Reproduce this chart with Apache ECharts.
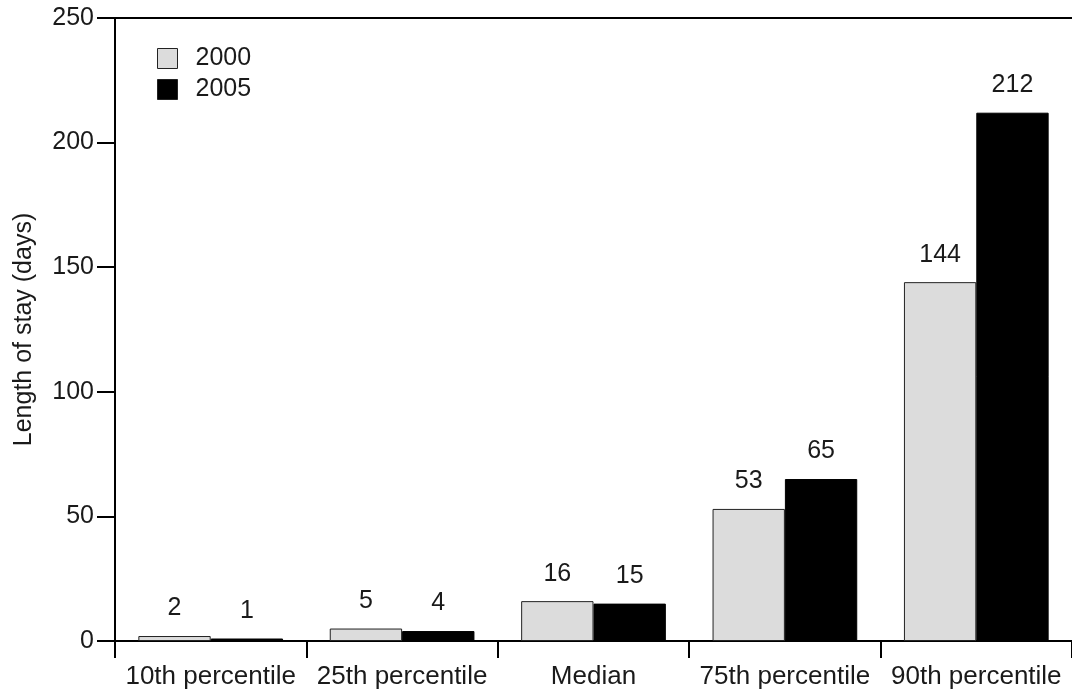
<!DOCTYPE html>
<html>
<head>
<meta charset="utf-8">
<script src="https://cdn.jsdelivr.net/npm/echarts@6/dist/echarts.min.js"></script>
<style>
html,body{margin:0;padding:0;background:#fff;}
#chart{width:1072px;height:690px;}
</style>
</head>
<body>
<div id="chart"></div>
<script>
const categories = ['10th percentile', '25th percentile', 'Median', '75th percentile', '90th percentile'];
const values2000 = [2, 5, 16, 53, 144];
const values2005 = [1, 4, 15, 65, 212];
const yTicks = [0, 50, 100, 150, 200, 250];

const FONT = 'Liberation Sans, Arial, sans-serif';
const TXT = '#1a1a1a';

const chart = echarts.init(document.getElementById('chart'), null, {renderer: 'canvas'});
chart.setOption({
  animation: false,
  backgroundColor: '#ffffff',
  textStyle: {fontFamily: FONT, color: TXT},
  grid: {left: 115, top: 18, width: 960, height: 624, containLabel: false},
  legend: {
    orient: 'vertical',
    left: 157, top: 46,
    padding: 0,
    icon: 'rect',
    itemWidth: 20, itemHeight: 20, itemGap: 6,
    textStyle: {fontFamily: FONT, fontSize: 25, color: TXT, padding: [0, 0, 0, 13]},
    data: [
      {name: '2000', itemStyle: {color: '#dcdcdc', borderColor: '#222', borderWidth: 1}},
      {name: '2005', itemStyle: {color: '#000', borderColor: '#222', borderWidth: 1}}
    ]
  },
  xAxis: [{
    type: 'category',
    data: categories,
    position: 'bottom',
    axisLine: {show: true, lineStyle: {color: '#000', width: 2}},
    axisTick: {show: true, length: 17, alignWithLabel: false, lineStyle: {color: '#000', width: 2}},
    axisLabel: {fontFamily: FONT, fontSize: 26, color: TXT, margin: 23, interval: 0}
  }, {
    type: 'category',
    data: categories,
    position: 'top',
    axisLine: {show: true, lineStyle: {color: '#000', width: 2}},
    axisTick: {show: false},
    axisLabel: {show: false}
  }],
  yAxis: {
    type: 'value',
    min: 0, max: 250, interval: 50,
    name: 'Length of stay (days)',
    nameLocation: 'middle',
    nameGap: 78,
    nameRotate: 90,
    nameTextStyle: {fontFamily: FONT, fontSize: 25, color: TXT},
    axisLine: {show: true, lineStyle: {color: '#000', width: 2}},
    axisTick: {show: true, inside: false, length: 18, lineStyle: {color: '#000', width: 2}},
    axisLabel: {fontFamily: FONT, fontSize: 25, color: TXT, margin: 21,
      formatter: v => yTicks.includes(v) ? String(v) : ''},
    splitLine: {show: false}
  },
  series: [{
    name: '2000',
    type: 'bar',
    data: values2000,
    barWidth: '37.8%',
    barGap: '0%',
    itemStyle: {color: '#dcdcdc', borderColor: '#222', borderWidth: 1},
    label: {show: true, position: 'top', distance: 15, fontFamily: FONT, fontSize: 25, color: TXT}
  }, {
    name: '2005',
    type: 'bar',
    data: values2005,
    barWidth: '37.8%',
    barGap: '0%',
    itemStyle: {color: '#000', borderColor: '#000', borderWidth: 1},
    label: {show: true, position: 'top', distance: 15, fontFamily: FONT, fontSize: 25, color: TXT}
  }]
});
</script>
</body>
</html>
